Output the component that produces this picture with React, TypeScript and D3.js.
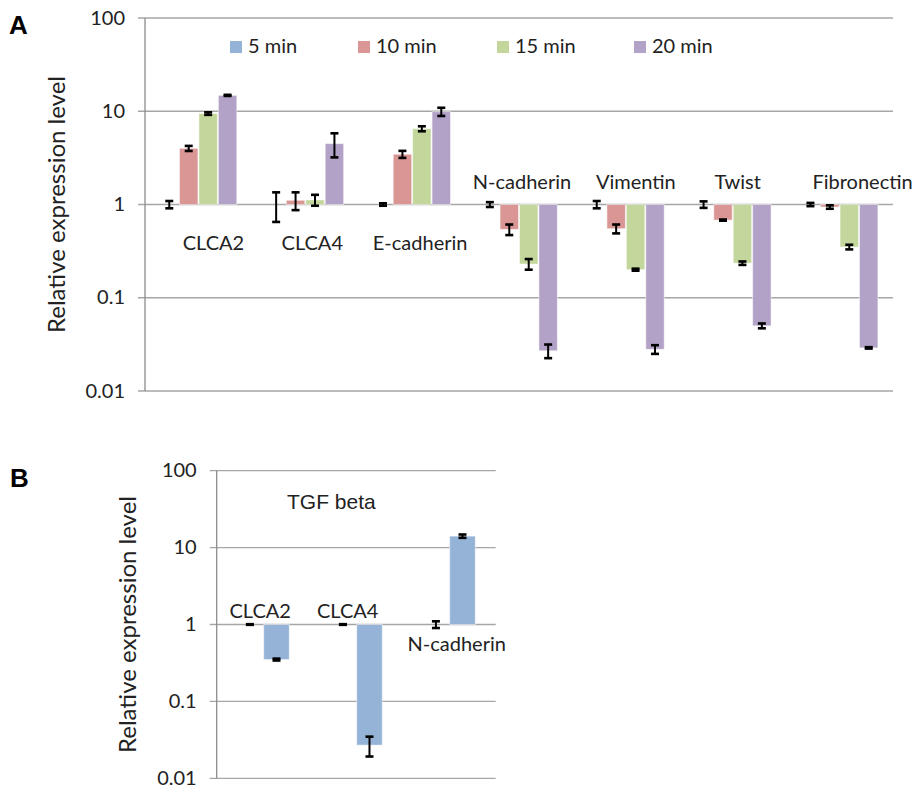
import React from 'react';
import * as d3 from 'd3';

// Panel A data
const genesA = ['CLCA2', 'CLCA4', 'E-cadherin', 'N-cadherin', 'Vimentin', 'Twist', 'Fibronectin'];
const seriesA = ['5 min', '10 min', '15 min', '20 min'];
const colorsA = ['#95B3D7', '#D99694', '#C3D69B', '#B3A2C7'];
const valuesA = [
  [1, 1, 1, 1, 1, 1, 1],
  [4.0, 1.11, 3.46, 0.54, 0.55, 0.68, 0.94],
  [9.45, 1.12, 6.5, 0.23, 0.2, 0.235, 0.35],
  [14.8, 4.5, 9.9, 0.027, 0.028, 0.05, 0.029],
];
const errorsA = [
  [0.09, 0.35, 0.03, 0.06, 0.09, 0.08, 0.04],
  [0.25, 0.24, 0.3, 0.07, 0.06, 0.01, 0.04],
  [0.3, 0.15, 0.4, 0.03, 0.005, 0.01, 0.02],
  [0.2, 1.3, 1.0, 0.0045, 0.003, 0.003, 0.0005],
];

// Panel B data
const genesB = ['CLCA2', 'CLCA4', 'N-cadherin'];
const seriesB = ['control', 'TGF beta'];
const colorsB = ['#95B3D7', '#95B3D7'];
const valuesB = [
  [1, 1, 1],
  [0.35, 0.027, 14.1],
];
const errorsB = [
  [0.01, 0.01, 0.1],
  [0.01, 0.0078, 0.7],
];

const yTicks = [0.01, 0.1, 1, 10, 100];

const CAL = 'Lato, "Noto Sans", sans-serif';
const ARIAL = '"Liberation Sans", Arial, sans-serif';

interface PanelProps {
  genes: string[];
  series: string[];
  colors: string[];
  values: number[][];
  errors: number[][];
  left: number;
  right: number;
  top: number;
  bottom: number;
  labelDx: number[];
  labelY: number[];
  yLabelX: number;
}

const Panel: React.FC<PanelProps> = ({
  genes, series, colors, values, errors, left, right, top, bottom, labelDx, labelY, yLabelX,
}) => {
  const y = d3.scaleLog().domain([0.01, 100]).range([bottom, top]);
  const x0 = d3.scaleBand<string>().domain(genes).range([left, right]).padding(0);
  const x1 = d3
    .scaleBand<number>()
    .domain(series.map((_, i) => i))
    .range([0, x0.bandwidth()])
    .paddingInner(0)
    .paddingOuter(0.75);
  const base = y(1);

  return (
    <g>
      {/* grid lines + tick labels */}
      {yTicks.map((t) => (
        <g key={t}>
          <line x1={left - 7} x2={right} y1={y(t)} y2={y(t)} stroke="#a6a6a6" strokeWidth={1.3} />
          <text
            x={left - 20}
            y={y(t)}
            dy="0.33em"
            textAnchor="end"
            fontFamily={CAL}
            fontSize={20}
            fill="#222"
          >
            {String(t)}
          </text>
        </g>
      ))}
      <line x1={left} x2={left} y1={top} y2={bottom} stroke="#8c8c8c" strokeWidth={1.3} />
      <text
        transform={`translate(${yLabelX},${(top + bottom) / 2}) rotate(-90)`}
        textAnchor="middle"
        dominantBaseline="central"
        fontFamily={CAL}
        fontSize={24}
        fill="#222"
      >
        Relative expression level
      </text>

      {/* bars */}
      {series.map((s, si) =>
        genes.map((g, gi) => {
          const v = values[si][gi];
          const bx = (x0(g) as number) + (x1(si) as number);
          const bw = x1.bandwidth();
          const yv = y(v);
          return (
            <rect
              key={`${s}-${g}`}
              x={bx + 0.5}
              width={bw - 1}
              y={Math.min(yv, base)}
              height={Math.abs(yv - base)}
              fill={colors[si]}
              stroke="#ffffff"
              strokeOpacity={0.5}
              strokeWidth={1}
            />
          );
        })
      )}

      {/* error bars */}
      {series.map((s, si) =>
        genes.map((g, gi) => {
          const v = values[si][gi];
          const e = errors[si][gi];
          const cx = (x0(g) as number) + (x1(si) as number) + x1.bandwidth() / 2;
          const yHi = y(v + e);
          const yLo = y(Math.max(v - e, 0.0001));
          return (
            <g key={`e-${s}-${g}`} stroke="#000">
              <line x1={cx} x2={cx} y1={yHi} y2={yLo} strokeWidth={2} />
              <line x1={cx - 4} x2={cx + 4} y1={yHi} y2={yHi} strokeWidth={2.6} />
              <line x1={cx - 4} x2={cx + 4} y1={yLo} y2={yLo} strokeWidth={2.6} />
            </g>
          );
        })
      )}

      {/* category labels */}
      {genes.map((g, gi) => (
        <text
          key={`l-${g}`}
          x={(x0(g) as number) + x0.bandwidth() / 2 + labelDx[gi]}
          y={labelY[gi]}
          textAnchor="middle"
          fontFamily={CAL}
          fontSize={20}
          fill="#222"
        >
          {g}
        </text>
      ))}
    </g>
  );
};

const legendX = [230, 358, 497, 634];

export default function App() {
  return (
    <div style={{ position: 'absolute', left: 0, top: 0 }}>
      <svg width={915} height={787} style={{ display: 'block', background: '#fff' }}>
        <rect width={915} height={787} fill="#fff" />
        <text x={9} y={34} fontFamily={ARIAL} fontWeight="bold" fontSize={26} fill="#000">
          A
        </text>
        <text x={10} y={487} fontFamily={ARIAL} fontWeight="bold" fontSize={26} fill="#000">
          B
        </text>

        <Panel
          genes={genesA}
          series={seriesA}
          colors={colorsA}
          values={valuesA}
          errors={errorsA}
          left={145}
          right={893}
          top={18}
          bottom={391}
          labelDx={[15, 7, 8, 3, 10, 5, 23]}
          labelY={[250, 250, 250, 189, 189, 189, 189]}
          yLabelX={55}
        />

        {/* legend A */}
        {seriesA.map((s, i) => (
          <g key={s}>
            <rect x={legendX[i]} y={41} width={12} height={12} fill={colorsA[i]} />
            <text x={legendX[i] + 18} y={53} fontFamily={CAL} fontSize={20} fill="#222">
              {s}
            </text>
          </g>
        ))}

        <Panel
          genes={genesB}
          series={seriesB}
          colors={colorsB}
          values={valuesB}
          errors={errorsB}
          left={216.7}
          right={495.7}
          top={470.7}
          bottom={778.3}
          labelDx={[-3, -8.5, 7.5]}
          labelY={[618, 618, 651]}
          yLabelX={126}
        />
        <text x={287} y={509} fontFamily={ARIAL} fontSize={21} fill="#222">
          TGF beta
        </text>
      </svg>
    </div>
  );
}
